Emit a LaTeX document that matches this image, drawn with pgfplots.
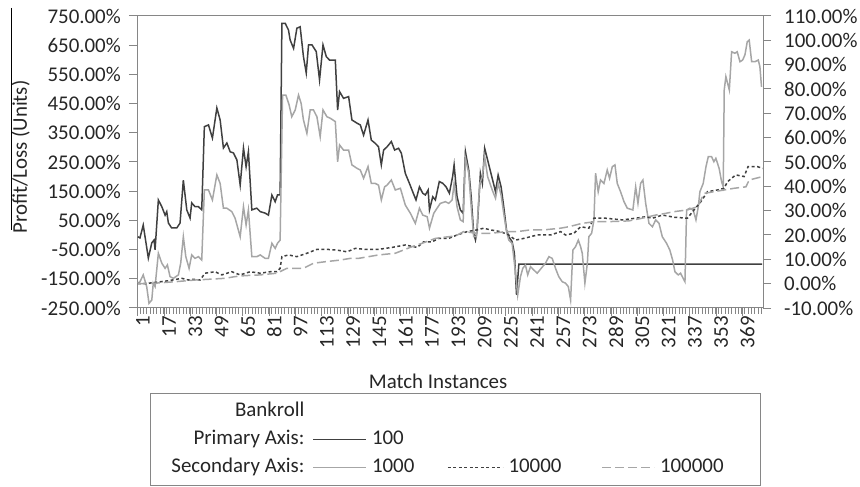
\documentclass[border=0pt]{standalone}
\usepackage{pgfplots}
\pgfplotsset{compat=1.18}
\usepackage{fontspec}
\setmainfont{Carlito}
\definecolor{darkser}{HTML}{404040}
\definecolor{lightser}{HTML}{A6A6A6}
\definecolor{axgray}{HTML}{868686}
\definecolor{txt}{HTML}{262626}
\newcommand\fs{\fontsize{21}{25}\selectfont}
\pgfplotsset{
  base/.style={
    scale only axis, width=626bp, height=292bp,
    at={(137bp,179bp)}, anchor=south west,
    xmin=0.5, xmax=381.5,
    axis line style={axgray, line width=1bp},
    tick style={axgray, line width=1bp},
    tick align=outside, major tick length=8bp, minor tick length=6bp,
    tick label style={font=\fs, text=txt},
    label style={font=\fs, text=txt},
  },
  imgA/.style={legend image code/.code={\path (0pt,0pt) (66bp,0pt); \draw[##1] (8bp,0pt) -- (61bp,0pt);}},
  imgB/.style={legend image code/.code={\path (0pt,0pt) (65bp,0pt); \draw[##1] (5bp,0pt) -- (60bp,0pt);}},
  imgC/.style={legend image code/.code={\path (0pt,0pt) (62bp,0pt); \draw[##1] (5bp,0pt) -- (57bp,0pt);}},
}
\begin{document}
\begin{tikzpicture}[font=\fs]
\path[use as bounding box] (0,0) rectangle (860bp,487bp);
\begin{axis}[base,
  ymin=-250, ymax=750,
  ytick={-250,-150,...,750},
  yticklabel={\pgfmathprintnumber[fixed,fixed zerofill,precision=2,assume math mode=true]{\tick}\%},
  yticklabel style={anchor=east, inner sep=0pt, xshift=-8bp},
  xtick={1,17,...,369},
  xticklabels={1,17,33,49,65,81,97,113,129,145,161,177,193,209,225,241,257,273,289,305,321,337,353,369},
  minor xtick={0.5,2.5,...,381.5},
  xticklabel style={rotate=90, anchor=east, inner sep=0pt, yshift=-5bp},
  xtick pos=left, ytick pos=left,
  xlabel={Match Instances},
  xlabel style={at={(axis description cs:0.481,-0.25)}, anchor=center},
  ylabel={Profit/Loss (Units)},
  ylabel style={at={(axis description cs:-0.186,0.517)}, anchor=center},
]
\addplot[darkser, line width=1.5bp] coordinates {
(1,-6) (2.3,-10) (4.3,34) (7.4,-79) (9.5,-27) (10.9,-17) (11.5,-51) (13.5,120)
(15.6,97) (17.6,68) (18.6,80) (19.6,41) (21.6,24) (24.7,24) (26.7,41) (28.7,188)
(30.8,86) (32.8,58) (33.8,110) (35.8,97) (37.9,97) (39.9,86) (41.5,371) (44,377)
(46.4,332) (49.1,435) (51.1,394) (53.1,298) (55.2,315) (57.2,285) (59.2,281) (61.3,257)
(63.3,171) (65.3,298) (66.9,234) (68.3,285) (70.4,86) (73.4,92) (75.5,80) (78.5,75)
(80.5,68) (82.6,137) (84.6,114) (86,137) (87.6,137) (88.7,725) (90.7,725) (92.7,702)
(93.7,668) (95.8,639) (97.8,708) (99.8,713) (101.8,611) (103.5,555) (104.9,651) (107,651)
(109.6,628) (111.6,531) (113.7,651) (115.7,611) (117.7,599) (121.2,599) (122.6,428) (123.8,491)
(126.2,468) (129.3,474) (131.3,394) (134.4,383) (136.4,377) (138.4,342) (141.1,394) (143.1,325)
(145.5,314) (147.5,302) (149.2,240) (150.6,291) (152.7,302) (155.3,320) (157.3,291) (159.7,297)
(161.4,280) (163.8,211) (166.3,177) (168.3,148) (170.3,120) (172.4,165) (174.4,143) (176,137)
(177.7,154) (178.5,86) (180.5,131) (182.1,120) (184.5,183) (186.6,177) (188.6,165) (190.6,143)
(192.6,200) (193.5,240) (195.3,131) (197.3,86) (199,74) (200.4,285) (202.4,223) (203.9,131)
(205.4,6) (206.5,-17) (207.5,17) (209.5,211) (210.7,177) (212.1,297) (213.9,257) (216.7,194)
(218.7,148) (220.3,205) (222.1,165) (223.7,97) (225.4,17) (226.8,-6) (228.8,-23) (230.2,-63)
(231.5,-205) (232.9,-100) (381,-100)
};
\end{axis}
\begin{axis}[base,
  axis x line=none, axis y line*=right,
  ymin=-10, ymax=110,
  ytick={-10,0,...,110},
  yticklabel={\pgfmathprintnumber[fixed,fixed zerofill,precision=2,assume math mode=true]{\tick}\%},
  yticklabel style={anchor=west, inner sep=0pt, xshift=13bp},
  legend columns=4,
  legend style={at={(0.0208,-0.2911)}, anchor=north west, draw=axgray, line width=1bp,
    inner xsep=5bp, inner ysep=8bp, row sep=8bp, column sep=0pt,
    nodes={inner sep=0pt, text height=15bp, text depth=5bp, font=\fs, text=txt},
    cells={anchor=west}},
]
\addplot[lightser, line width=1.5bp, forget plot] coordinates {
(1,0.2) (2.3,0.8) (4.3,3.6) (6.4,-1.2) (7.8,-8.1) (9.5,-6.7) (10.4,0.2) (11.5,-1.2)
(13.5,12.5) (15.6,8.4) (17.6,6.3) (19,7.7) (20.6,2.9) (22.6,2.2) (25.7,3.6) (27.1,8.4)
(28.7,19.3) (30.2,11.1) (32.2,6.3) (33.8,11.8) (35.8,10.4) (37.9,11.1) (39.9,9.7) (41.5,38.5)
(44,38.5) (46.4,34.4) (49.1,44.7) (51.1,41.2) (53.1,31) (55.2,31) (58.2,29.6) (60.2,26.9)
(63.3,19.3) (65.3,31.6) (66.9,24.1) (68.3,30.3) (70.4,11.1) (73.4,11.1) (75.5,11.8) (78.5,10.4)
(80.5,10.4) (82.6,16.6) (84.6,14.5) (86,16.6) (87.6,17.9) (89.1,77.5) (91.1,77.5) (93.1,73.4)
(94.7,68.6) (96.8,71.4) (98.8,77.5) (100.4,74.1) (101.8,67.3) (103.9,61.8) (105.9,71.4) (107.9,71.4)
(110,68.6) (112,60.4) (113.7,71.4) (116.1,68.6) (118.1,68) (121.2,66.6) (122.6,50.1) (123.8,57)
(126.2,54.9) (129.3,54.9) (131.3,48.8) (134.4,47.4) (136.4,46.7) (138.4,43.3) (141.1,48.1) (143.1,41.2)
(145.5,41.2) (147.5,40.5) (149.2,34.4) (151.2,39.8) (152.7,40.5) (155.3,42.6) (157.7,38.5) (160.8,39.2)
(163.8,32.3) (166.9,28.9) (169.9,24.8) (172.4,31) (174.4,28.2) (177.1,27.5) (178.5,22.8) (181.1,28.9)
(183.1,31) (185.1,33) (188.2,33.7) (190.2,33) (192.3,34.4) (193.5,41.2) (195.3,31.6) (197.3,26.2)
(199,25.5) (200.4,51.5) (202.4,45.4) (203.9,31.6) (205.4,19.3) (207.1,19.3) (209.1,41.2) (210.7,44)
(212.1,52.2) (213.9,44) (216.7,38.5) (218.7,35.1) (220.3,41.2) (222.1,36.4) (223.7,28.9) (225.4,21.4)
(226.8,17.9) (228.8,16.6) (230.9,4.3) (232.2,-4.7) (233.9,2.9) (235.3,6.3) (236.9,7.7) (238.3,3.6)
(240,7) (242,5.6) (244.1,4.3) (246.5,6.3) (249.1,8.4) (251.2,11.1) (253.2,10.4) (255.2,6.3)
(257.2,2.9) (259.3,0.8) (261.3,0.2) (263,-1.2) (264.4,-6.7) (265.8,13.8) (267.4,15.2) (269.1,17.9)
(270.5,15.2) (271.5,12.5) (273.1,0.2) (274.6,8.4) (275.5,19.3) (277.2,20.7) (278.6,26.2) (279.6,45.4)
(281.2,37.8) (282.6,42.6) (284.7,41.2) (286.7,46.7) (288.1,43.3) (289.8,48.1) (291.4,48.8) (292.8,41.2)
(294.8,37.8) (296.9,33.7) (298.9,31) (302.3,30.3) (304,39.8) (305.4,33) (307,41.2) (308.4,42.6)
(310.1,33) (312.1,24.8) (314.2,23.4) (316.2,26.2) (318.2,24.8) (320.2,19.3) (322.8,16.6) (324.8,13.8)
(326.5,9.7) (327.9,4.9) (329.9,3.6) (331.3,4.3) (332.9,2.2) (334,0.8) (335,30.3) (337,31)
(339,30.3) (340.7,26.2) (342.1,31.6) (343.1,37.8) (345.1,41.2) (346.8,48.1) (348.2,52.2) (350.2,52.2)
(351.6,50.1) (352.8,51.5) (354.8,47.4) (356.3,41.9) (357.3,39.8) (357.9,79.6) (358.9,85.1) (361,79.6)
(362.4,95.3) (364.4,94.7) (365.8,95.3) (367.5,91.2) (369.1,91.9) (370.5,94) (371.9,99.4) (373.1,100.1)
(374.6,91.2) (376.6,91.2) (378.6,91.9) (379.6,89.2) (380.6,80.9)
};
\addplot[darkser, line width=1.5bp, dash pattern=on 3bp off 2.5bp, forget plot] coordinates {
(1,0) (5.4,0) (11.5,0.5) (19.6,1.2) (27.7,2.2) (31.8,1.5) (34.8,1.8) (38.9,1.5)
(41.9,4.3) (48,4.9) (52.1,3.6) (58.2,4.9) (63.3,3.6) (69.4,4.9) (75.5,4.3) (81.6,4.9)
(85.6,4.9) (87.6,6.3) (88.7,11.1) (92.7,11.8) (97.8,11.1) (103.9,12.5) (110,14.1) (116.1,14.1)
(122.2,13.8) (128.3,13.1) (133.4,14.5) (139.4,14.1) (147.5,14.1) (155.7,14.9) (163.8,15.9) (171,14.9)
(175,17.2) (180.1,17.2) (184.1,18.6) (190.2,18.6) (195.3,20) (201.4,21.4) (207.5,22.1) (211.5,22.8)
(215.6,22.1) (221.7,21.4) (226.8,20) (230.9,17.9) (235.9,18.6) (244.1,20) (252.2,20) (258.3,21.4)
(261.3,20) (266.4,20.7) (270.5,23.4) (275.5,22.8) (278.6,26.9) (285.7,26.9) (295.9,26.2) (304,26.9)
(310.1,27.5) (314.2,26.9) (320.3,28.2) (327.4,27.3) (335.5,26.9) (339.5,30.3) (343.7,33.7) (347.7,37.8)
(353.8,38.5) (357.8,39.2) (359.9,41.9) (364.9,44.7) (370,44) (372.4,48.1) (378.1,48.1) (381.2,47.4)
};
\addplot[lightser, line width=1.5bp, dash pattern=on 9bp off 4bp, forget plot] coordinates {
(1,0) (11.5,0.2) (23.7,0.8) (35.8,1.5) (44,1.8) (54.1,2.2) (60.2,2.9) (66.3,3.3)
(75.5,3.6) (85.6,4.3) (91.7,6.3) (101.8,6.3) (107.9,8.4) (116.1,9.1) (124.2,9.7) (130.3,10.4)
(135.4,10.4) (147.5,11.8) (157.7,12.5) (167.9,15.2) (174,16.6) (182.1,18.6) (190.2,19.3) (194.3,19.6)
(199.3,21.4) (207.5,20.7) (215.6,20.7) (225.8,21.4) (231.9,21.4) (240,22.1) (248.1,22.1) (258.3,22.8)
(263.3,23.4) (271.5,24.8) (279.6,25.5) (287.7,25.5) (299.9,25.8) (308,26.9) (316.2,28.2) (322.3,28.9)
(327.4,29.6) (335.5,30.3) (341.6,31.6) (345.7,37.1) (351.7,37.8) (357.8,38.5) (363.9,39.2) (371.1,39.8)
(373.1,42.6) (381.2,44)
};
\addlegendimage{empty legend}\addlegendentry{\makebox[149bp][r]{Bankroll}}
\addlegendimage{empty legend}\addlegendentry{\phantom{x}}
\addlegendimage{empty legend}\addlegendentry{\phantom{x}}
\addlegendimage{empty legend}\addlegendentry{\phantom{x}}
\addlegendimage{empty legend}\addlegendentry{\makebox[149bp][r]{Primary Axis:}}
\addlegendimage{imgA, darkser, line width=1.5bp}
\addlegendentry{\makebox[70bp][l]{100}}
\addlegendimage{empty legend}\addlegendentry{\phantom{x}}
\addlegendimage{empty legend}\addlegendentry{\phantom{x}}
\addlegendimage{empty legend}\addlegendentry{\makebox[149bp][r]{Secondary Axis:}}
\addlegendimage{imgA, lightser, line width=1.5bp}
\addlegendentry{\makebox[70bp][l]{1000}}
\addlegendimage{imgB, darkser, line width=1.5bp, dash pattern=on 3bp off 2.5bp}
\addlegendentry{\makebox[88bp][l]{10000}}
\addlegendimage{imgC, lightser, line width=1.5bp, dash pattern=on 9bp off 4bp}
\addlegendentry{\makebox[95bp][l]{100000}}
\end{axis}
\draw[black, line width=1bp] (11bp,479bp) -- (11bp,257bp);
\end{tikzpicture}
\end{document}
